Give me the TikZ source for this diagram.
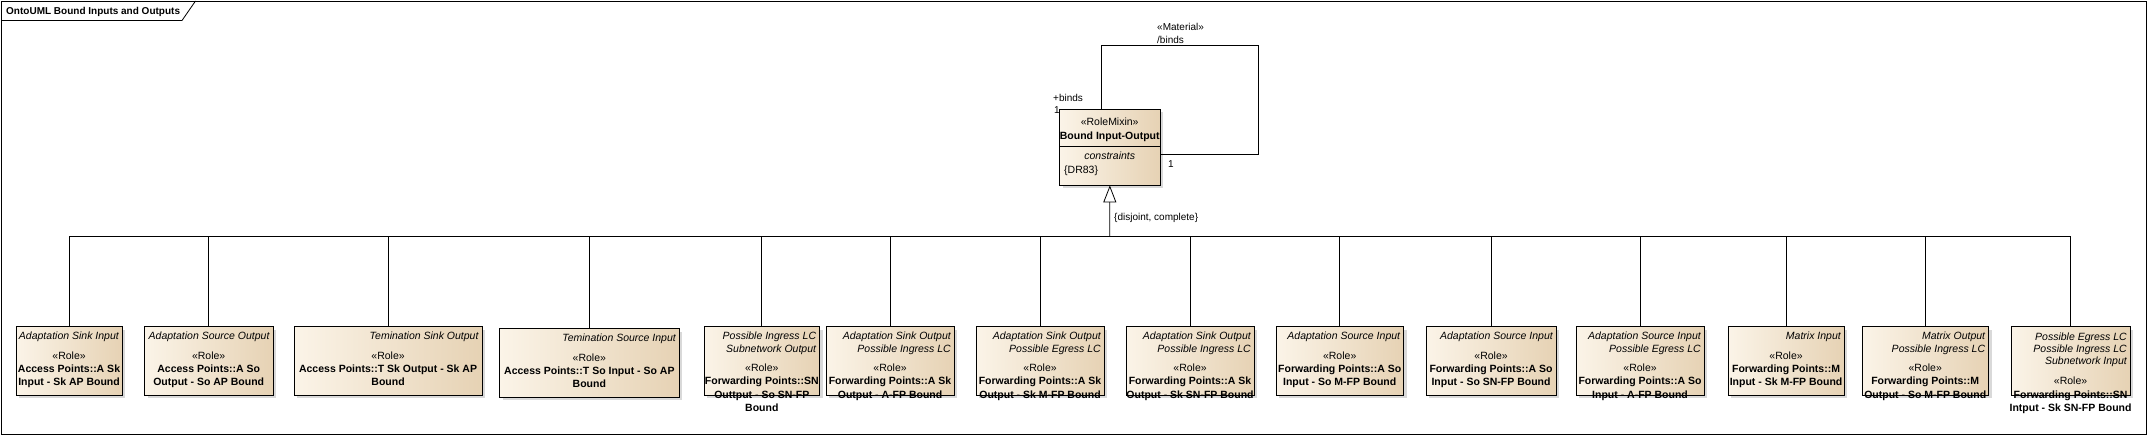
\documentclass[tikz,border=0pt]{standalone}
\usepackage{fontspec}
\setmainfont{Liberation Sans}
\usetikzlibrary{arrows.meta,shadows}

\definecolor{boxlight}{HTML}{FBF4E8}
\definecolor{boxdark}{HTML}{E6D2B4}

\tikzset{
  classbox/.style={draw=black, rectangle, inner sep=0pt, anchor=north west,
    left color=boxlight, right color=boxdark,
    drop shadow={shadow xshift=3pt, shadow yshift=-3pt, opacity=0.3}},
  tagtext/.style={inner sep=0pt, anchor=base east, align=right,
    font=\fontsize{10.5}{12.3}\selectfont\itshape},
  roletext/.style={inner sep=0pt, anchor=base, align=center,
    font=\fontsize{10.5}{13.3}\selectfont},
  lbl/.style={inner sep=0pt, font=\fontsize{10}{12}\selectfont},
  edge/.style={draw=black, line width=0.8pt}
}

\begin{document}
\begin{tikzpicture}[x=1pt, y=-1pt]
    \useasboundingbox (0,0) rectangle (2147,435);

    % frame
    \draw[line width=0.8pt] (1,1) rectangle (2146,434);
    \draw[line width=0.8pt] (1,20.5) -- (182,20.5) -- (195.5,1);
    \node[inner sep=0pt, anchor=base west, font=\fontsize{10}{12}\selectfont\bfseries]
        (title) at (6,15) {OntoUML Bound Inputs and Outputs};

    % mixin (base anchor = last line)
    \node[classbox, minimum width=100.7pt, minimum height=75.7pt] (mixin) at (1059.3,109.3) {};
    \draw (mixin.west |- 0,146) -- (mixin.east |- 0,146);
    \node[roletext] (mixinst) at (1109.7,139.3) {«RoleMixin»\\ \textbf{Bound Input-Output}};
    \node[roletext, font=\fontsize{10.5}{13.3}\selectfont\itshape] (mixinc) at (1109.7,160) {constraints};
    \node[roletext, anchor=base west] (mixindr) at (1064,174) {\{DR83\}};

    % material loop
    \coordinate (loopa) at (1101.7,45.3);
    \coordinate (loopb) at (1258.3,154);
    \draw[edge] (mixin.north -| loopa) -- (loopa) -| (loopb) -- (mixin.east |- loopb);
    \node[lbl, anchor=base west] (matst) at (1157,30.5) {«Material»};
    \node[lbl, anchor=base west, fill=white, inner sep=1pt] (matname) at (1156,43.5) {/binds};
    \node[lbl, anchor=base west] (rolea) at (1053,101.5) {+binds};
    \node[lbl, anchor=base west] (multa) at (1054,114) {1};
    \node[lbl, anchor=base west] (multb) at (1168,168) {1};

    % role boxes
    \node[classbox, minimum width=106.3pt, minimum height=68.5pt] (b1) at (15.7,326.5) {};
    \node[tagtext] (b1t) at (119,340) {Adaptation Sink Input};
    \node[roletext] (b1r) at (b1.north |- 0,385.9) {«Role»\\ \textbf{Access Points::A Sk}\\ \textbf{Input - Sk AP Bound}};

    \node[classbox, minimum width=128.4pt, minimum height=68.5pt] (b2) at (144.3,326.5) {};
    \node[tagtext] (b2t) at (269.7,340) {Adaptation Source Output};
    \node[roletext] (b2r) at (b2.north |- 0,385.9) {«Role»\\ \textbf{Access Points::A So}\\ \textbf{Output - So AP Bound}};

    \node[classbox, minimum width=187.7pt, minimum height=68.5pt] (b3) at (294,326.5) {};
    \node[tagtext] (b3t) at (478.7,340) {Temination Sink Output};
    \node[roletext] (b3r) at (b3.north |- 0,385.9) {«Role»\\ \textbf{Access Points::T Sk Output - Sk AP}\\ \textbf{Bound}};

    \node[classbox, minimum width=179.7pt, minimum height=68.8pt] (b4) at (499.3,328.5) {};
    \node[tagtext] (b4t) at (676,342) {Temination Source Input};
    \node[roletext] (b4r) at (b4.north |- 0,387.9) {«Role»\\ \textbf{Access Points::T So Input - So AP}\\ \textbf{Bound}};

    \node[classbox, minimum width=115.3pt, minimum height=68.5pt] (b5) at (704,326.5) {};
    \node[tagtext] (b5t) at (816.3,352.3) {Possible Ingress LC\\ Subnetwork Output};
    \node[roletext] (b5r) at (b5.north |- 0,411.5) {«Role»\\ \textbf{Forwarding Points::SN}\\ \textbf{Outtput - So SN-FP}\\ \textbf{Bound}};

    \node[classbox, minimum width=128.3pt, minimum height=68.5pt] (b6) at (825.7,326.5) {};
    \node[tagtext] (b6t) at (951,352.3) {Adaptation Sink Output\\ Possible Ingress LC};
    \node[roletext] (b6r) at (b6.north |- 0,398.2) {«Role»\\ \textbf{Forwarding Points::A Sk}\\ \textbf{Output - A-FP Bound}};

    \node[classbox, minimum width=128.3pt, minimum height=68.5pt] (b7) at (975.7,326.5) {};
    \node[tagtext] (b7t) at (1101,352.3) {Adaptation Sink Output\\ Possible Egress LC};
    \node[roletext] (b7r) at (b7.north |- 0,398.2) {«Role»\\ \textbf{Forwarding Points::A Sk}\\ \textbf{Output - Sk M-FP Bound}};

    \node[classbox, minimum width=128.3pt, minimum height=68.5pt] (b8) at (1125.7,326.5) {};
    \node[tagtext] (b8t) at (1251,352.3) {Adaptation Sink Output\\ Possible Ingress LC};
    \node[roletext] (b8r) at (b8.north |- 0,398.2) {«Role»\\ \textbf{Forwarding Points::A Sk}\\ \textbf{Output - Sk SN-FP Bound}};

    \node[classbox, minimum width=127.6pt, minimum height=68.5pt] (b9) at (1275.7,326.5) {};
    \node[tagtext] (b9t) at (1400.3,340) {Adaptation Source Input};
    \node[roletext] (b9r) at (b9.north |- 0,385.9) {«Role»\\ \textbf{Forwarding Points::A So}\\ \textbf{Input - So M-FP Bound}};

    \node[classbox, minimum width=130.3pt, minimum height=68.5pt] (b10) at (1425.7,326.5) {};
    \node[tagtext] (b10t) at (1553,340) {Adaptation Source Input};
    \node[roletext] (b10r) at (b10.north |- 0,385.9) {«Role»\\ \textbf{Forwarding Points::A So}\\ \textbf{Input - So SN-FP Bound}};

    \node[classbox, minimum width=128.3pt, minimum height=68.5pt] (b11) at (1575.7,326.5) {};
    \node[tagtext] (b11t) at (1701,352.3) {Adaptation Source Input\\ Possible Egress LC};
    \node[roletext] (b11r) at (b11.north |- 0,398.2) {«Role»\\ \textbf{Forwarding Points::A So}\\ \textbf{Input - A-FP Bound}};

    \node[classbox, minimum width=116.3pt, minimum height=68.5pt] (b12) at (1727.7,326.5) {};
    \node[tagtext] (b12t) at (1841,340) {Matrix Input};
    \node[roletext] (b12r) at (b12.north |- 0,385.9) {«Role»\\ \textbf{Forwarding Points::M}\\ \textbf{Input - Sk M-FP Bound}};

    \node[classbox, minimum width=126.6pt, minimum height=68.5pt] (b13) at (1861.7,326.5) {};
    \node[tagtext] (b13t) at (1985.3,352.3) {Matrix Output\\ Possible Ingress LC};
    \node[roletext] (b13r) at (b13.north |- 0,398.2) {«Role»\\ \textbf{Forwarding Points::M}\\ \textbf{Output - So M-FP Bound}};

    \node[classbox, minimum width=119.3pt, minimum height=68.5pt] (b14) at (2010.7,326.5) {};
    \node[tagtext] (b14t) at (2127,364.6) {Possible Egress LC\\ Possible Ingress LC\\ Subnetwork Input};
    \node[roletext] (b14r) at (b14.north |- 0,411.5) {«Role»\\ \textbf{Forwarding Points::SN}\\ \textbf{Intput - Sk SN-FP Bound}};

    % generalization set
    \coordinate (bus) at (1109.7,236.7);
    \draw[edge, -{Triangle[open, length=17pt, width=13pt]}] (bus) -- (mixin.south);
    \node[lbl, anchor=base west] (genset) at (1114,220.5) {\{disjoint, complete\}};
    \draw[edge] (b1.north |- bus) -- (b14.north |- bus);
    \draw[edge] (b1.north) -- (b1.north |- bus);
    \draw[edge] (b2.north) -- (b2.north |- bus);
    \draw[edge] (b3.north) -- (b3.north |- bus);
    \draw[edge] (b4.north) -- (b4.north |- bus);
    \draw[edge] (b5.north) -- (b5.north |- bus);
    \draw[edge] (b6.north) -- (b6.north |- bus);
    \draw[edge] (b7.north) -- (b7.north |- bus);
    \draw[edge] (b8.north) -- (b8.north |- bus);
    \draw[edge] (b9.north) -- (b9.north |- bus);
    \draw[edge] (b10.north) -- (b10.north |- bus);
    \draw[edge] (b11.north) -- (b11.north |- bus);
    \draw[edge] (b12.north) -- (b12.north |- bus);
    \draw[edge] (b13.north) -- (b13.north |- bus);
    \draw[edge] (b14.north) -- (b14.north |- bus);
\end{tikzpicture}
\end{document}
